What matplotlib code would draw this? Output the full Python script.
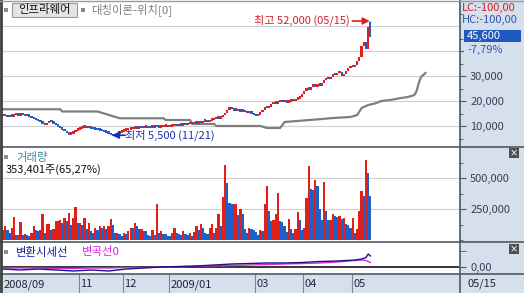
import matplotlib
matplotlib.use('Agg')
import matplotlib.pyplot as plt
from matplotlib.patches import Rectangle
from matplotlib.lines import Line2D

plt.rcParams['font.family'] = ['Noto Sans CJK KR', 'DejaVu Sans']

W, H = 524, 293

# daily closes, 2008/09 ~ 2009/05/15 (trading day index 0..167)
closes = [14000, 14400, 13600, 14000, 13800, 14400, 14600, 14200, 14800, 14400,
          14000, 14200, 13800, 13200, 12800, 12400, 12000, 11600, 11000, 10400,
          11200, 12000, 11600, 11000, 10400, 9800, 9200, 8600, 8000, 7200,
          6600, 7000, 7600, 8200, 8600, 9000, 9400, 9800, 9200, 9400,
          9000, 8800, 8600, 8400, 8200, 8000, 7600, 7400, 7000, 6400,
          6000, 6400, 7000, 7400, 7800, 8200, 8400, 8600, 8800, 9000,
          9200, 9000, 9400, 9200, 9600, 9400, 9200, 9600, 9400, 9800,
          9600, 9400, 9600, 9800, 10000, 9600, 9800, 10000, 10200, 10000,
          10400, 10200, 10600, 10400, 10800, 11000, 10800, 11200, 11000, 11400,
          11200, 11800, 12000, 11600, 12200, 12400, 12800, 13200, 13000, 13600,
          14400, 15400, 16600, 17400, 16800, 16200, 16600, 16000, 15800, 16200,
          15600, 15200, 15600, 15000, 14400, 14000, 14600, 15600, 16600, 17600,
          17200, 17800, 18800, 19400, 19000, 19600, 20000, 19600, 19800, 19400,
          19800, 20200, 20000, 20600, 21000, 21600, 22800, 24200, 25400, 24600,
          25800, 26200, 25800, 26600, 26200, 27200, 28400, 29200, 28800, 29800,
          31000, 30400, 31200, 31600, 30000, 30800, 32000, 33200, 34000, 33600,
          34400, 36000, 37600, 42000, 43600, 41000, 49450, 45600]
last_open = 51600
last_high = 52000

# volume in thousand shares
volumes = [80, 113, 80, 60, 100, 188, 40, 40, 148, 40,
           50, 40, 30, 60, 113, 80, 70, 80, 210, 60,
           130, 130, 80, 90, 150, 155, 160, 140, 175, 150,
           220, 120, 180, 263, 140, 140, 120, 180, 90, 140,
           75, 60, 95, 80, 110, 100, 110, 90, 110, 170,
           120, 60, 60, 50, 30, 60, 45, 70, 100, 95,
           140, 115, 90, 90, 75, 70, 40, 35, 80, 40,
           293, 55, 70, 50, 45, 35, 30, 60, 95, 60,
           45, 40, 75, 50, 40, 60, 35, 65, 110, 80,
           130, 100, 60, 45, 100, 130, 60, 100, 210, 110,
           350, 605, 460, 300, 293, 293, 293, 200, 250, 210,
           90, 60, 100, 90, 80, 65, 40, 80, 75, 293,
           435, 234, 150, 160, 210, 381, 150, 145, 110, 65,
           170, 85, 60, 85, 225, 160, 80, 100, 339, 597,
           411, 400, 484, 435, 250, 160, 468, 230, 160, 160,
           210, 190, 185, 195, 170, 175, 130, 120, 100, 175,
           55, 85, 230, 395, 355, 645, 543, 353.401]

# 대칭이론-위치 line (projected ahead of the last day)
gray_days = [0, 26, 27, 43, 53, 73, 74, 85, 86, 96, 97, 117, 120, 126, 128, 145,
             150, 158, 161, 163, 166, 169, 172, 176, 181, 184, 187, 188, 189, 190, 192]
gray_vals = [16700, 16700, 15800, 15800, 13100, 13100, 12400, 12400, 10800, 10800,
             10000, 10000, 9200, 9200, 11600, 12800, 13200, 13600, 14400, 17200,
             18400, 19000, 20000, 20400, 21200, 21600, 22400, 24000, 27200, 29600, 31200]

# 변환시세선 / 변곡선0
ind_days = [0, 8, 16, 24, 32, 40, 48, 56, 64, 72, 80, 88, 96, 104, 112, 120,
            128, 136, 144, 152, 160, 163, 165, 166, 167]
conv_line = [-2, -3, -2, -3, -4, -3, -4, -2, -1, 0, 0.5, 1, 2, 3, 3.5, 4,
             4, 4.5, 5.5, 6, 7, 8, 9.5, 13, 11]
infl_line = [-1, -1, -1, -1.5, -1.5, -1, -1, -0.5, -0.5, 0, 0.3, 0.8, 1.2, 1.5, 2, 2.5,
             3, 3.5, 4, 5, 6.5, 7, 6.5, 5.5, 4.5]

date_ticks = [35, 55, 76, 115, 137, 159]
date_labels = ['11', '12', '2009/01', '03', '04', '05']

RED = '#e0201a'
BLUE = '#1f5fc8'
PANEL_BG = '#d6e0ec'
LINE = '#505a66'
AXCOL = '#34405a'


def px(x0, y0, x1, y1):
    return [x0 / W, 1 - y1 / H, (x1 - x0) / W, (y1 - y0) / H]


fig = plt.figure(figsize=(W / 100, H / 100), dpi=100)
fig.patches.append(Rectangle((459 / W, 0), (W - 459) / W, 1, transform=fig.transFigure,
                             facecolor=PANEL_BG, edgecolor='none', zorder=-2))
fig.patches.append(Rectangle((0, 0), 1, 19 / H, transform=fig.transFigure,
                             facecolor=PANEL_BG, edgecolor='none', zorder=-2))

xlim = ((2 - 3) / 2.2, (459 - 3) / 2.2)
n = len(closes)
idx = list(range(n))
opens = [closes[0]] + closes[:-1]
opens[-1] = last_open
up = [c >= o for c, o in zip(closes, opens)]
vol_up = [True] + [volumes[i] >= volumes[i - 1] for i in range(1, n)]

# ---------------- price panel
ax = fig.add_axes(px(2, 2, 459, 147))
ax.patch.set_alpha(0)
ax.set_xlim(*xlim)
ax.set_ylim(1600, 59600)
for g in [10000, 20000, 30000, 40000, 50000]:
    ax.axhline(g, color='#d0d0d0', lw=0.8, zorder=0)
bottoms = [min(o, c) for o, c in zip(opens, closes)]
heights = [max(abs(c - o), 900) for o, c in zip(opens, closes)]
ax.bar(idx, heights, bottom=bottoms, width=1.0,
       color=[RED if u else BLUE for u in up], zorder=3)
ax.vlines(n - 1, max(last_open, closes[-1]), last_high, color=BLUE, lw=1, zorder=3)
ax.plot(gray_days, gray_vals, color='#7f7f7f', lw=1.6, zorder=2)

ax.text(157.5, 52400, '최고 52,000 (05/15)', color='#d0202a', fontsize=8,
        ha='right', va='center')
ax.annotate('', xy=(n - 1.3, 52000), xytext=(158.8, 52000),
            arrowprops=dict(arrowstyle='-|>', color='#e0201a', lw=1.2,
                            mutation_scale=10, shrinkA=0, shrinkB=0))
ax.text(55.5, 6400, '최저 5,500 (11/21)', color='#1c2eb0', fontsize=8,
        ha='left', va='center')
ax.annotate('', xy=(49.5, 6300), xytext=(55.5, 6300),
            arrowprops=dict(arrowstyle='-|>', color='#1030d0', lw=1.2,
                            mutation_scale=10, shrinkA=0, shrinkB=0))

ax.yaxis.tick_right()
ax.set_yticks([10000, 20000, 30000])
ax.set_yticklabels(['{:,}'.format(v) for v in [10000, 20000, 30000]])
ax.set_yticks([5000, 15000, 25000, 35000, 40000, 45000, 55000], minor=True)
ax.tick_params(axis='y', which='major', length=5, pad=3, labelsize=8,
               labelcolor=AXCOL, color=LINE)
ax.tick_params(axis='y', which='minor', length=3, color=LINE)
ax.set_xticks([])
for s in ax.spines.values():
    s.set_visible(False)

# title row
fig.patches.append(Rectangle((12 / W, 1 - 17 / H), 65 / W, 14 / H, transform=fig.transFigure,
                             facecolor='#e4e4e4', edgecolor='#9a9a9a', lw=0.8, zorder=5))
for sx in [4, 81]:
    fig.patches.append(Rectangle((sx / W, 1 - 12 / H), 4 / W, 4 / H, transform=fig.transFigure,
                                 facecolor='#8c8c8c', edgecolor='none', zorder=5))
fig.text(44 / W, 1 - 10 / H, '인프라웨어', fontsize=8.2, color='#101010',
         ha='center', va='center', zorder=6)
fig.text(91 / W, 1 - 10 / H, '대칭이론-위치[0]', fontsize=8.2, color='#808080',
         ha='left', va='center')

# right side labels
fig.text(462 / W, 1 - 8 / H, 'LC:-100,00', fontsize=8, color='#d0202a', ha='left', va='center')
fig.text(462 / W, 1 - 20 / H, 'HC:-100,00', fontsize=8, color='#2a56b0', ha='left', va='center')
fig.patches.append(Rectangle((464 / W, 1 - 42 / H), 57 / W, 12 / H, transform=fig.transFigure,
                             facecolor='#1f5ac0', edgecolor='none', zorder=5))
fig.text(467 / W, 1 - 36 / H, '45,600', fontsize=8, color='white', ha='left', va='center', zorder=6)
fig.text(467 / W, 1 - 50 / H, '-7,79%', fontsize=8, color='#2a56b0', ha='left', va='center')
fig.add_artist(Line2D([459 / W, 463 / W], [1 - 51 / H, 1 - 51 / H], color=LINE, lw=0.8))

# ---------------- volume panel
axv = fig.add_axes(px(2, 147, 459, 242))
axv.patch.set_alpha(0)
axv.set_xlim(*xlim)
axv.set_ylim(-16000, 750000)
for g in [250000, 500000]:
    axv.axhline(g, color='#d0d0d0', lw=0.8, zorder=0)
axv.bar(idx, [v * 1000 for v in volumes], width=1.0,
        color=[RED if u else BLUE for u in vol_up], zorder=3)
axv.yaxis.tick_right()
axv.set_yticks([250000, 500000])
axv.set_yticklabels(['250,000', '500,000'])
axv.set_yticks([0, 125000, 375000, 625000], minor=True)
axv.tick_params(axis='y', which='major', length=5, pad=3, labelsize=8,
                labelcolor=AXCOL, color=LINE)
axv.tick_params(axis='y', which='minor', length=3, color=LINE)
axv.set_xticks([])
for s in axv.spines.values():
    s.set_visible(False)
fig.patches.append(Rectangle((4 / W, 1 - 159 / H), 4 / W, 4 / H, transform=fig.transFigure,
                             facecolor='#8c8c8c', edgecolor='none', zorder=5))
fig.text(16 / W, 1 - 157 / H, '거래량', fontsize=8.2, color='#3a8c9c', ha='left', va='center')
fig.text(6 / W, 1 - 170 / H, '353,401주(65,27%)', fontsize=8, color='#101010',
         ha='left', va='center')

# ---------------- indicator panel
axi = fig.add_axes(px(2, 242, 459, 274))
axi.patch.set_alpha(0)
axi.set_xlim(*xlim)
axi.set_ylim(-7, 25)
axi.axhline(0, color='black', lw=1.1, zorder=1)
axi.plot(ind_days, infl_line, color='#d030d8', lw=1, zorder=2)
axi.plot(ind_days, conv_line, color='#20108c', lw=1, zorder=3)
axi.yaxis.tick_right()
axi.set_yticks([0])
axi.set_yticklabels(['0,00'])
axi.set_yticks([16], minor=True)
axi.tick_params(axis='y', which='major', length=5, pad=3, labelsize=8,
                labelcolor=AXCOL, color=LINE)
axi.tick_params(axis='y', which='minor', length=5, color=LINE)
axi.set_xticks([])
for s in axi.spines.values():
    s.set_visible(False)
fig.patches.append(Rectangle((4 / W, 1 - 254 / H), 4 / W, 4 / H, transform=fig.transFigure,
                             facecolor='#8c8c8c', edgecolor='none', zorder=5))
fig.text(16 / W, 1 - 252 / H, '변환시세선', fontsize=8.2, color='#1a1aa0', ha='left', va='center')
fig.text(82 / W, 1 - 252 / H, '변곡선0', fontsize=8.2, color='#e020e0', ha='left', va='center')

# close buttons
for by in [153, 249]:
    fig.patches.append(Rectangle((509 / W, 1 - (by + 5) / H), 10 / W, 10 / H,
                                 transform=fig.transFigure, facecolor='#505050',
                                 edgecolor='none', zorder=5))
    fig.text(514 / W, 1 - by / H, '×', fontsize=7, color='white', ha='center',
             va='center', zorder=6, family='DejaVu Sans')

# ---------------- date strip
axd = fig.add_axes(px(2, 274, 459, 293))
axd.set_xlim(*xlim)
axd.set_ylim(0, 1)
axd.axis('off')
axd.text(xlim[0] + 0.6, 0.45, '2008/09', fontsize=8, color='#202838', ha='left', va='center')
for t, lab in zip(date_ticks, date_labels):
    axd.axvline(t - 0.5, color='#7a8694', lw=0.8)
    axd.text(t + 0.2, 0.45, lab, fontsize=8, color='#202838', ha='left', va='center')
fig.text(467 / W, 1 - 284 / H, '05/15', fontsize=8, color='#202838', ha='left', va='center')

# separators / borders
for yy in [147, 242, 274]:
    fig.add_artist(Line2D([0, 1], [1 - yy / H, 1 - yy / H], color=LINE, lw=1.2))
fig.add_artist(Line2D([459.5 / W, 459.5 / W], [0, 1], color=LINE, lw=1.2))
fig.add_artist(Line2D([0.8 / W, 0.8 / W], [0, 1], color='#404040', lw=2))
fig.add_artist(Line2D([0, 1], [1 - 0.5 / H, 1 - 0.5 / H], color='#9a9a9a', lw=1))

fig.savefig('out.png', dpi=100)
